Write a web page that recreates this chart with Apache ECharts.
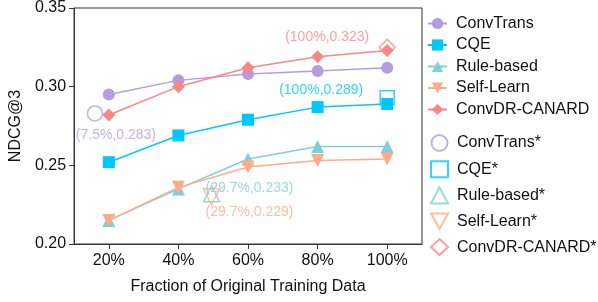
<!DOCTYPE html>
<html>
<head>
<meta charset="utf-8">
<title>NDCG@3</title>
<script src="https://cdn.jsdelivr.net/npm/echarts@6/dist/echarts.min.js"></script>
<style>
  html, body { margin: 0; padding: 0; background: #fff; }
  #main { width: 598px; height: 302px; }
</style>
</head>
<body>
<div id="main"></div>
<script>
// fraction of training data (%)
var fractions = [20, 40, 60, 80, 100];
var xTicks = [20, 40, 60, 80, 100];
var yTicks = [0.20, 0.25, 0.30, 0.35];

var convTrans   = [0.295, 0.304, 0.308, 0.310, 0.312];
var cqe         = [0.252, 0.269, 0.279, 0.287, 0.289];
var ruleBased   = [0.215, 0.235, 0.254, 0.262, 0.262];
var selfLearn   = [0.215, 0.236, 0.249, 0.253, 0.254];
var convDR      = [0.282, 0.300, 0.312, 0.319, 0.323];

// starred (reference) points, as drawn in the figure
var convTransStar = [16, 0.283];
var cqeStar       = [100, 0.293];
var ruleStar      = [49.5, 0.232];
var selfStar      = [49.5, 0.230];
var convDRStar    = [100, 0.325];

var starNotes = {
  convTrans: '(7.5%,0.283)',
  cqe: '(100%,0.289)',
  rule: '(29.7%,0.233)',
  self: '(29.7%,0.229)',
  convDR: '(100%,0.323)'
};

var C = {
  purple: '#b39ddf',
  cyan: '#00c8fa',
  teal: '#7fcfd6',
  peach: '#ffab88',
  salmon: '#fb8686'
};

function pairs(vals) {
  return fractions.map(function (f, i) { return [f, vals[i]]; });
}

var myChart = echarts.init(document.getElementById('main'), null, { renderer: 'canvas' });

function lineSeries(name, vals, color, symbol, size) {
  return {
    name: name,
    type: 'line',
    data: pairs(vals),
    symbol: symbol,
    symbolSize: size,
    showSymbol: true,
    itemStyle: { color: color },
    lineStyle: { color: color, width: 1.5 },
    emphasis: { disabled: true },
    z: 3
  };
}

function starSeries(name, pt, color, symbol, size, note, offset) {
  return {
    name: name,
    type: 'scatter',
    data: [pt],
    symbol: symbol,
    symbolSize: size,
    itemStyle: { color: 'rgba(0,0,0,0)', borderColor: color, borderWidth: 1.5 },
    label: {
      show: true,
      position: 'inside',
      offset: offset,
      formatter: note,
      color: color,
      fontSize: 14,
      fontFamily: 'Liberation Sans'
    },
    emphasis: { disabled: true },
    z: 4
  };
}

var font = 'Liberation Sans';

myChart.setOption({
  animation: false,
  textStyle: { fontFamily: font },
  grid: {
    left: 70, top: 8, right: 176, bottom: 58,
    show: true, borderColor: '#333', borderWidth: 1
  },
  legend: [{
    orient: 'vertical',
    left: 427, top: 15.5,
    padding: 0,
    itemWidth: 19, itemHeight: 14, itemGap: 5.5,
    textStyle: { fontSize: 16, color: '#111', padding: [0, 0, 0, 4] },
    data: ['ConvTrans', 'CQE', 'Rule-based', 'Self-Learn', 'ConvDR-CANARD']
  }, {
    orient: 'vertical',
    left: 430, top: 134,
    padding: 0,
    itemWidth: 17, itemHeight: 16, itemGap: 8.2,
    textStyle: { fontSize: 16, color: '#111', padding: [0, 0, 0, 4] },
    data: ['ConvTrans*', 'CQE*', 'Rule-based*', 'Self-Learn*', 'ConvDR-CANARD*']
  }],
  xAxis: {
    type: 'value',
    min: 10, max: 110,
    name: 'Fraction of Original Training Data',
    nameLocation: 'middle',
    nameGap: 35,
    nameTextStyle: { fontSize: 16, color: '#111' },
    axisLine: { lineStyle: { color: '#333' } },
    axisTick: { show: true, length: 5, lineStyle: { color: '#333' }, customValues: xTicks },
    axisLabel: {
      customValues: xTicks, margin: 9, fontSize: 16, color: '#111',
      formatter: function (v) { return v + '%'; }
    },
    splitLine: { show: false }
  },
  yAxis: {
    type: 'value',
    min: 0.20, max: 0.35, interval: 0.05,
    name: 'NDCG@3',
    nameLocation: 'middle',
    nameGap: 45,
    nameTextStyle: { fontSize: 16, color: '#111' },
    axisLine: { show: true, lineStyle: { color: '#333' } },
    axisTick: { show: true, length: 5, lineStyle: { color: '#333' } },
    axisLabel: {
      margin: 8, fontSize: 16, color: '#111',
      formatter: function (v) { return v.toFixed(2); }
    },
    splitLine: { show: false }
  },
  series: [
    lineSeries('ConvTrans', convTrans, C.purple, 'circle', 12),
    lineSeries('CQE', cqe, C.cyan, 'rect', 12),
    lineSeries('Rule-based', ruleBased, C.teal, 'triangle', 13),
    lineSeries('Self-Learn', selfLearn, C.peach, 'path://M0,0 L10,0 L5,9 Z', 13),
    lineSeries('ConvDR-CANARD', convDR, C.salmon, 'diamond', 13),
    starSeries('ConvTrans*', convTransStar, C.purple, 'circle', 15, starNotes.convTrans, [21, 22]),
    starSeries('CQE*', cqeStar, C.cyan, 'rect', 14, starNotes.cqe, [-66, -8]),
    starSeries('Rule-based*', ruleStar, C.teal, 'triangle', 16, starNotes.rule, [38, -6]),
    starSeries('Self-Learn*', selfStar, C.peach, 'path://M0,0 L10,0 L5,9 Z', 16, starNotes.self, [38, 15]),
    starSeries('ConvDR-CANARD*', convDRStar, C.salmon, 'diamond', 16, starNotes.convDR, [-60, -10])
  ]
});
</script>
</body>
</html>
